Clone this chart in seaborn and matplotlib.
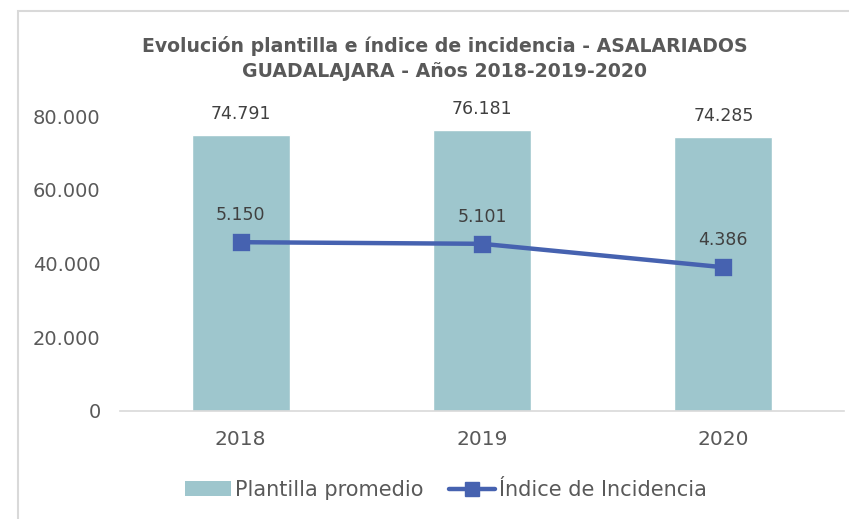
import numpy as np
import pandas as pd
import matplotlib
matplotlib.use("Agg")
import matplotlib.pyplot as plt
import seaborn as sns
from matplotlib.patches import Patch, Rectangle
from matplotlib.lines import Line2D

# === DATI ===
anni = ["2018", "2019", "2020"]
plantilla = [74791, 76181, 74285]
indice = [5150, 5101, 4386]
etichette_plantilla = ["74.791", "76.181", "74.285"]
etichette_indice = ["5.150", "5.101", "4.386"]
tick_y = [0, 20000, 40000, 60000, 80000]
tick_y_label = ["0", "20.000", "40.000", "60.000", "80.000"]

col_barra = "#9EC6CD"
col_linea = "#4662B0"
col_testo = "#404040"
col_tick = "#595959"

sns.set_style("white")
plt.rcParams["font.family"] = ["DejaVu Sans"]

df = pd.DataFrame({"anno": anni, "plantilla": plantilla, "indice": indice})

fig = plt.figure(figsize=(8.49, 5.19), dpi=100)
ax = fig.add_axes([120 / 849, 1 - 411 / 519, (844 - 120) / 849, 295 / 519])

sns.barplot(data=df, x="anno", y="plantilla", color=col_barra, saturation=1,
            width=0.405, ax=ax)
ax.set_ylim(0, 80000)
ax.set_xlim(-0.5, 2.5)
ax.set_yticks(tick_y)
ax.set_yticklabels(tick_y_label)
ax.set_xlabel("")
ax.set_ylabel("")
ax.tick_params(axis="y", length=0, pad=14, labelsize=14, labelcolor=col_tick)
ax.tick_params(axis="x", length=0, pad=14, labelsize=14.5, labelcolor=col_tick)
for s in ["top", "right", "left"]:
    ax.spines[s].set_visible(False)
ax.spines["bottom"].set_color("#D9D9D9")
ax.spines["bottom"].set_linewidth(1.2)

for i, v in enumerate(plantilla):
    ax.annotate(etichette_plantilla[i], (i, v), xytext=(0, 9), textcoords="offset points",
                ha="center", va="bottom", fontsize=12.5, color=col_testo)

# asse secondario nascosto per l'indice
ax2 = ax.twinx()
sns.pointplot(data=df, x="anno", y="indice", color=col_linea, markers="s",
              markersize=9.5, linewidth=3.2, ax=ax2)
ax2.set_ylim(0, 9000)
ax2.set_xlim(-0.5, 2.5)
ax2.axis("off")
for i, v in enumerate(indice):
    ax2.annotate(etichette_indice[i], (i, v), xytext=(0, 13), textcoords="offset points",
                 ha="center", va="bottom", fontsize=12.5, color=col_testo)

fig.text(445 / 849, 1 - 46 / 519, "Evolución plantilla e índice de incidencia - ASALARIADOS",
         ha="center", va="center", fontsize=13.6, fontweight="bold", color=col_tick)
fig.text(445 / 849, 1 - 72 / 519, "GUADALAJARA - Años 2018-2019-2020",
         ha="center", va="center", fontsize=13.6, fontweight="bold", color=col_tick)

handles = [Patch(facecolor=col_barra, edgecolor="none"),
           Line2D([0], [0], color=col_linea, lw=3.2, marker="s", markersize=9.5)]
fig.legend(handles, ["Plantilla promedio", "Índice de Incidencia"],
           loc="center", bbox_to_anchor=(446 / 849, 1 - 490 / 519), ncol=2,
           frameon=False, fontsize=15, labelcolor=col_tick,
           handlelength=2.2, handletextpad=0.2, columnspacing=1.2)

# bordo del grafico
fig.patches.append(Rectangle((18 / 849, -0.1), 1.2, 1 - 11 / 519 + 0.1,
                             transform=fig.transFigure, fill=False,
                             edgecolor="#D9D9D9", lw=1.5, zorder=0))

fig.savefig("out.png", dpi=100, facecolor="white")
